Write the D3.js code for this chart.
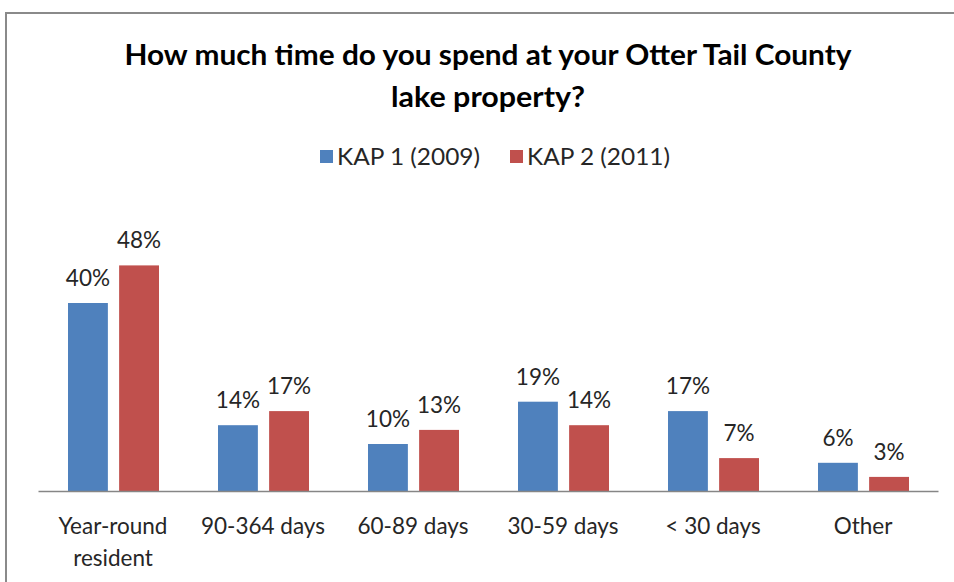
<!DOCTYPE html>
<html lang="en">
<head>
<meta charset="UTF-8" />
<script src="https://d3js.org/d3.v7.min.js"></script>
<title>Otter Tail County lake property</title>
<style>
  body { margin: 0; background: #fff; }
  text { font-family: Lato, "Open Sans", sans-serif; fill: #262626; }
</style>
</head>
<body>
<script>
const width = 954;
const height = 582;

const categories = ["Year-round resident", "90-364 days", "60-89 days", "30-59 days", "< 30 days", "Other"];
const seriesNames = ["KAP 1 (2009)", "KAP 2 (2011)"];
const kap1 = [40, 14, 10, 19, 17, 6];
const kap2 = [48, 17, 13, 14, 7, 3];
const colors = ["#4F81BD", "#C0504D"];

let svg = d3.select("body").append("svg")
  .attr("width", width)
  .attr("height", height);

// chart frame
svg.append("path")
  .attr("d", "M6,600 L6,13 L960,13")
  .attr("fill", "none")
  .attr("stroke", "#8a8a8a")
  .attr("stroke-width", 2);

// title
let title = svg.append("text")
  .attr("text-anchor", "middle")
  .style("font-size", "28px")
  .style("font-weight", "bold")
  .style("fill", "#000");
title.append("tspan").attr("x", 488).attr("y", 65)
  .attr("textLength", 727).attr("lengthAdjust", "spacingAndGlyphs")
  .text("How much time do you spend at your Otter Tail County");
title.append("tspan").attr("x", 488).attr("y", 107)
  .attr("textLength", 194).attr("lengthAdjust", "spacingAndGlyphs")
  .text("lake property?");

// legend
let legendX = [320, 510];
seriesNames.forEach((s, i) => {
  svg.append("rect")
    .attr("x", legendX[i]).attr("y", 150)
    .attr("width", 13).attr("height", 13)
    .attr("fill", colors[i]);
  svg.append("text")
    .attr("x", legendX[i] + 17).attr("y", 165)
    .style("font-size", "22.5px")
    .attr("textLength", 143).attr("lengthAdjust", "spacingAndGlyphs")
    .text(s);
});

const x0 = d3.scaleBand().domain(categories).range([38, 938]).paddingInner(0).paddingOuter(0);
const x1 = d3.scaleBand().domain([0, 1]).range([30, 121]).paddingInner(0.22);
const y = d3.scaleLinear().domain([0, 50]).range([491, 256]);

let data = categories.map((c, i) => ({ cat: c, vals: [kap1[i], kap2[i]] }));

let groups = svg.selectAll(".grp")
  .data(data)
  .enter().append("g")
  .attr("class", "grp")
  .attr("transform", d => "translate(" + x0(d.cat) + ",0)");

groups.selectAll("rect")
  .data(d => d.vals.map((v, j) => ({ v: v, j: j })))
  .enter().append("rect")
  .attr("x", d => x1(d.j))
  .attr("width", x1.bandwidth())
  .attr("y", d => y(d.v))
  .attr("height", d => y(0) - y(d.v))
  .attr("fill", d => colors[d.j]);

groups.selectAll(".lbl")
  .data(d => d.vals.map((v, j) => ({ v: v, j: j })))
  .enter().append("text")
  .attr("class", "lbl")
  .attr("text-anchor", "middle")
  .attr("x", d => x1(d.j) + x1.bandwidth() / 2)
  .attr("y", d => y(d.v) - 17)
  .style("font-size", "22.5px")
  .text(d => d.v + "%");

// x axis
let xAxis = d3.axisBottom(x0).tickSize(0).tickPadding(0);
let axisG = svg.append("g")
  .attr("transform", "translate(0," + y(0) + ")")
  .call(xAxis);
axisG.select(".domain").attr("stroke", "#868686").attr("stroke-width", 1.5);
axisG.selectAll(".tick text").remove();
axisG.selectAll(".tick").each(function(d) {
  let t = d3.select(this).append("text")
    .attr("text-anchor", "middle")
    .style("font-size", "22.5px");
  let lines = d === "Year-round resident" ? ["Year-round", "resident"] : [d];
  lines.forEach((l, k) => {
    t.append("tspan").attr("x", 0).attr("y", 43 + k * 32).text(l);
  });
});
</script>
</body>
</html>
